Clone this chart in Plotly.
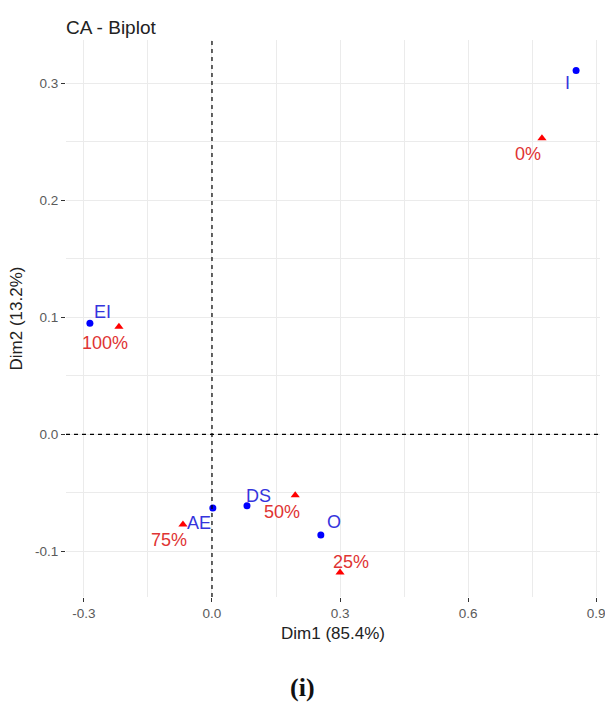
import plotly.graph_objects as go

# Row coordinates (blue points)
row_names = ["I", "EI", "AE", "DS", "O"]
row_dim1 = [0.853, -0.286, 0.002, 0.082, 0.255]
row_dim2 = [0.311, 0.095, -0.063, -0.061, -0.086]

# Column coordinates (red triangles)
col_names = ["0%", "100%", "75%", "50%", "25%"]
col_dim1 = [0.773, -0.218, -0.068, 0.195, 0.300]
col_dim2 = [0.253, 0.092, -0.077, -0.052, -0.118]

# Axis ticks and their labels
x_ticks = [-0.3, 0.0, 0.3, 0.6, 0.9]
x_tick_labels = ["-0.3", "0.0", "0.3", "0.6", "0.9"]
y_ticks = [-0.1, 0.0, 0.1, 0.2, 0.3]
y_tick_labels = ["-0.1", "0.0", "0.1", "0.2", "0.3"]

# Pixel offsets for the repelled labels (dx, dy; positive dy = up)
row_label_shift = [(-9, -13), (13, 11), (-14, -15), (12, 10), (13, 13)]
col_label_shift = [(-14, -16), (-14, -16), (-14, -16), (-13, -17), (11, 10)]

ROW_COL = "#0000FF"
COL_COL = "#FF0000"
ROW_TXT = "#3535DD"
COL_TXT = "#E03333"
FONT = "Liberation Sans, Arial, sans-serif"

W, H = 605, 702
M_L, M_R, M_T, M_B = 66, 5, 40, 105
PANEL_H = H - M_T - M_B

fig = go.Figure()

fig.add_trace(go.Scatter(
    x=row_dim1, y=row_dim2, mode="markers",
    marker=dict(symbol="circle", size=7, color=ROW_COL),
    showlegend=False, hoverinfo="skip"))
fig.add_trace(go.Scatter(
    x=col_dim1, y=col_dim2, mode="markers",
    marker=dict(symbol="triangle-up", size=8, color=COL_COL),
    showlegend=False, hoverinfo="skip"))

annotations = []
for name, x, y, (dx, dy) in zip(row_names, row_dim1, row_dim2, row_label_shift):
    annotations.append(dict(x=x, y=y, xref="x", yref="y", text=name, showarrow=False,
                            xshift=dx, yshift=dy,
                            font=dict(family=FONT, size=18, color=ROW_TXT)))
for name, x, y, (dx, dy) in zip(col_names, col_dim1, col_dim2, col_label_shift):
    annotations.append(dict(x=x, y=y, xref="x", yref="y", text=name, showarrow=False,
                            xshift=dx, yshift=dy,
                            font=dict(family=FONT, size=18, color=COL_TXT)))

# Panel caption below the plot
annotations.append(dict(x=(W / 2 - M_L) / (W - M_L - M_R), y=-(687 - (H - M_B)) / PANEL_H,
                        xref="paper", yref="paper",
                        text="<b>(i)</b>", showarrow=False, xanchor="center", yanchor="middle",
                        font=dict(family="Liberation Serif, Times New Roman, serif", size=26, color="#111111")))

grid = "#EBEBEB"
axis_common = dict(
    showline=False, zeroline=False, automargin=False,
    ticks="outside", ticklen=4, tickwidth=1, tickcolor="#333333",
    tickfont=dict(family=FONT, size=13.5, color="#5A5A5A"),
    showgrid=True, gridcolor=grid, gridwidth=1,
    tickmode="array", ticklabeloverflow="allow",
)

fig.update_layout(
    width=W, height=H,
    margin=dict(l=M_L, r=M_R, t=M_T, b=M_B),
    paper_bgcolor="white", plot_bgcolor="white",
    title=dict(text="CA - Biplot", x=0, xref="paper", xanchor="left",
               y=1 - 27 / H, yref="container", yanchor="middle",
               font=dict(family=FONT, size=19, color="#222222")),
    xaxis=dict(axis_common, range=[-0.342, 0.909], tickvals=x_ticks, ticktext=x_tick_labels,
               minor=dict(tick0=0, dtick=0.15, showgrid=True, gridcolor=grid, gridwidth=0.6, ticklen=0),
               title=dict(text="Dim1 (85.4%)", standoff=6,
                          font=dict(family=FONT, size=17, color="#222222"))),
    yaxis=dict(axis_common, range=[-0.139, 0.337], tickvals=y_ticks, ticktext=y_tick_labels,
               minor=dict(tick0=0, dtick=0.05, showgrid=True, gridcolor=grid, gridwidth=0.6, ticklen=0),
               title=dict(text="Dim2 (13.2%)", standoff=8,
                          font=dict(family=FONT, size=17, color="#222222"))),
    annotations=annotations,
    shapes=[
        dict(type="line", xref="x", yref="paper", x0=0, x1=0, y0=0, y1=1,
             line=dict(color="black", width=1.2, dash="4px,4px")),
        dict(type="line", xref="paper", yref="y", x0=0, x1=1, y0=0, y1=0,
             line=dict(color="black", width=1.2, dash="4px,4px")),
    ],
)

fig.write_html("out.html")
